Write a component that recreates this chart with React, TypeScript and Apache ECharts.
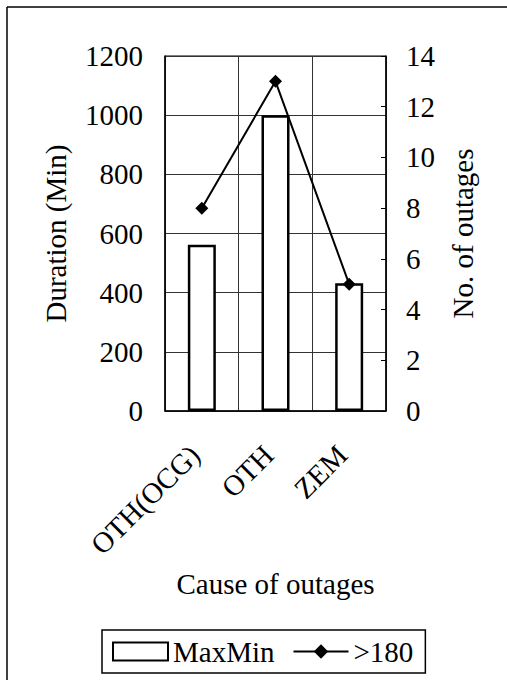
import React, { useEffect, useRef } from "react";
import * as echarts from "echarts";

const categories = ["OTH(OCG)", "OTH", "ZEM"];
const maxMinValues = [562, 1000, 432];
const over180Values = [8, 13, 5];
const leftTicks = { min: 0, max: 1200, interval: 200 };
const rightTicks = { min: 0, max: 14, interval: 2 };

const FONT = "Liberation Serif, Times New Roman, DejaVu Serif, serif";
const FS = 29;

export default function App() {
  const ref = useRef<HTMLDivElement>(null);
  useEffect(() => {
    if (!ref.current) return;
    const chart = echarts.init(ref.current, null, { renderer: "svg" });
    chart.setOption({
      animation: false,
      backgroundColor: "#fff",
      textStyle: { fontFamily: FONT, color: "#000" },
      grid: {
        left: 165,
        right: 121,
        top: 56,
        bottom: 269,
        show: true,
        borderColor: "#000",
        borderWidth: 1,
      },
      graphic: [
        { type: "line", shape: { x1: 7, y1: 7, x2: 507, y2: 7 }, style: { stroke: "#000", lineWidth: 1.5 } },
        { type: "line", shape: { x1: 7, y1: 7, x2: 7, y2: 680 }, style: { stroke: "#000", lineWidth: 1.5 } },
      ],
      legend: {
        bottom: 7,
        left: 102,
        orient: "horizontal",
        data: [{ name: "MaxMin", icon: "rect" }, { name: ">180" }],
        itemWidth: 55,
        itemHeight: 18,
        itemGap: 18,
        borderColor: "#000",
        borderWidth: 1.5,
        padding: [7, 12, 7, 10],
        textStyle: { fontFamily: FONT, fontSize: FS, color: "#000" },
      },
      xAxis: {
        type: "category",
        data: categories,
        boundaryGap: true,
        name: "Cause of outages",
        nameLocation: "middle",
        nameGap: 158,
        nameTextStyle: { fontFamily: FONT, fontSize: FS, color: "#000" },
        axisLine: { show: true, lineStyle: { color: "#000", width: 1.5 } },
        axisTick: { show: false },
        splitLine: { show: true, lineStyle: { color: "#333", width: 1 } },
        axisLabel: {
          rotate: 45,
          margin: 32,
          padding: [0, 10, 0, 0],
          fontFamily: FONT,
          fontSize: FS,
          color: "#000",
        },
      },
      yAxis: [
        {
          type: "value",
          min: leftTicks.min,
          max: leftTicks.max,
          interval: leftTicks.interval,
          name: "Duration (Min)",
          nameLocation: "middle",
          nameRotate: 90,
          nameGap: 95,
          nameTextStyle: { fontFamily: FONT, fontSize: FS, color: "#000" },
          axisLine: { show: true, lineStyle: { color: "#000", width: 1.5 } },
          axisTick: { show: false },
          splitLine: { show: true, lineStyle: { color: "#333", width: 1 } },
          axisLabel: {
            margin: 22,
            fontFamily: FONT,
            fontSize: FS,
            color: "#000",
            formatter: (v: number) => String(v),
          },
        },
        {
          type: "value",
          position: "right",
          min: rightTicks.min,
          max: rightTicks.max,
          interval: rightTicks.interval,
          name: "No. of outages",
          nameLocation: "middle",
          nameRotate: 90,
          nameGap: 62,
          nameTextStyle: { fontFamily: FONT, fontSize: FS, color: "#000" },
          axisLine: { show: true, lineStyle: { color: "#000", width: 1.5 } },
          axisTick: { show: true, inside: true, length: 5, lineStyle: { color: "#000" } },
          splitLine: { show: false },
          axisLabel: { margin: 20, fontFamily: FONT, fontSize: FS, color: "#000" },
        },
      ],
      series: [
        {
          name: "MaxMin",
          type: "bar",
          yAxisIndex: 0,
          data: maxMinValues,
          barWidth: 28,
          itemStyle: { color: "#fff", borderColor: "#000", borderWidth: 2.5 },
        },
        {
          name: ">180",
          type: "line",
          yAxisIndex: 1,
          data: over180Values,
          symbol: "diamond",
          symbolSize: 13,
          lineStyle: { color: "#000", width: 2 },
          itemStyle: { color: "#000" },
        },
      ],
    });
    return () => chart.dispose();
  }, []);
  return (
    <div
      ref={ref}
      style={{ position: "fixed", left: 0, top: 0, width: 507, height: 680 }}
    />
  );
}
